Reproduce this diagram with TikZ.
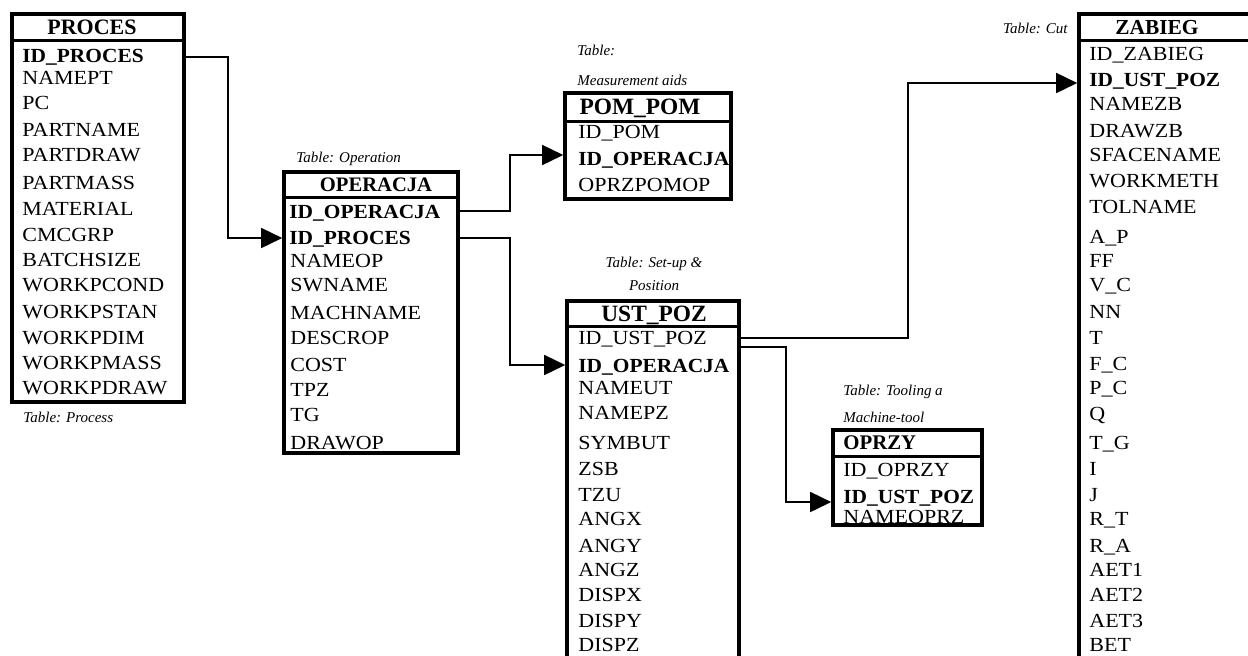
\documentclass[tikz,border=0pt]{standalone}
\usepackage{fontspec}
\setmainfont{Liberation Serif}[FakeStretch=1.1]
\newfontfamily\lblfont{Liberation Serif}
\newfontfamily\bfam{Liberation Serif}[FakeStretch=1.07]
\usetikzlibrary{arrows.meta,fit}
\begin{document}
\begin{tikzpicture}[x=0.5pt,y=-0.5pt,
  frame/.style={draw, line width=1.8pt, inner sep=0pt},
  divider/.style={line width=1.5pt},
  row/.style={anchor=west, inner sep=0pt, text height=6.6pt, text depth=0pt, font=\fontsize{10}{12}\selectfont},
  brow/.style={row, font=\bfam\fontsize{10}{12}\selectfont\bfseries},
  hdr/.style={inner sep=0pt, text height=6.6pt, text depth=0pt, font=\lblfont\fontsize{10}{12}\selectfont\bfseries},
  lbl/.style={inner sep=0pt, text height=5pt, text depth=0pt, font=\lblfont\itshape\fontsize{7.5}{9}\selectfont},
  conn/.style={line width=0.8pt, -{Triangle[length=10.5pt,width=10pt]}}]
\clip (0,0) rectangle (1248,655);
\fill[white] (0,0) rectangle (1248,655);

% ---------- PROCES ----------
\node[frame, fit={(12,14) (184,402)}] (procbox) {};
\draw[divider] (procbox.west |- 0,40) -- (procbox.east |- 0,40);
\node[hdr, font=\lblfont\fontsize{11}{13}\selectfont\bfseries, text height=7.3pt] (prochdr) at (92,27) {PROCES};
\node[brow] (pidp) at (22,56) {ID\_PROCES};
\foreach \t/\yy [count=\i] in {NAMEPT/78, PC/103, PARTNAME/130, PARTDRAW/155, PARTMASS/183, MATERIAL/209, CMCGRP/235, BATCHSIZE/260, WORKPCOND/285, WORKPSTAN/312, WORKPDIM/338, WORKPMASS/363, WORKPDRAW/388}
  \node[row] (p\i) at (22,\yy) {\t};
\node[lbl, anchor=west] (proclbl) at (23,417) {Table: Process};

% ---------- OPERACJA ----------
\node[frame, fit={(284,172) (458,453)}] (opbox) {};
\draw[divider] (opbox.west |- 0,197) -- (opbox.east |- 0,197);
\node[hdr, font=\lblfont\fontsize{10.3}{12}\selectfont\bfseries] (ophdr) at (376,185) {OPERACJA};
\node[brow] (oido) at (289,212) {ID\_OPERACJA};
\node[brow] (oidp) at (289,238) {ID\_PROCES};
\foreach \t/\yy [count=\i] in {NAMEOP/261, SWNAME/285, MACHNAME/313, DESCROP/338, COST/365, TPZ/390, TG/415, DRAWOP/443}
  \node[row] (o\i) at (290,\yy) {\t};
\node[lbl, anchor=west] (oplbl) at (296,157) {Table: Operation};

% ---------- POM_POM ----------
\node[frame, fit={(565,93) (731,199)}] (pmbox) {};
\draw[divider] (pmbox.west |- 0,121) -- (pmbox.east |- 0,121);
\node[hdr, font=\lblfont\fontsize{11.7}{14}\selectfont\bfseries, text height=7.7pt] (pmhdr) at (640,107) {POM\_POM};
\node[row] (pmidpom) at (578,132) {ID\_POM};
\node[brow] (pmido) at (578,159) {ID\_OPERACJA};
\node[row] (pmopr) at (578,185) {OPRZPOMOP};
\node[lbl, anchor=west] (pmlbla) at (577,50) {Table:};
\node[lbl, anchor=west] (pmlblb) at (577,80) {Measurement aids};

% ---------- UST_POZ ----------
\node[frame, fit={(567,301) (739,700)}] (ubox) {};
\draw[divider] (ubox.west |- 0,326) -- (ubox.east |- 0,326);
\node[hdr, font=\lblfont\fontsize{11.7}{14}\selectfont\bfseries, text height=7.7pt] (uhdr) at (654,314) {UST\_POZ};
\node[row] (uidu) at (578,338) {ID\_UST\_POZ};
\node[brow] (uido) at (578,366) {ID\_OPERACJA};
\foreach \t/\yy [count=\i] in {NAMEUT/388, NAMEPZ/413, SYMBUT/443, ZSB/469, TZU/495, ANGX/519, ANGY/546, ANGZ/570, DISPX/595, DISPY/621, DISPZ/645}
  \node[row] (u\i) at (578,\yy) {\t};
\node[lbl] (ulbla) at (654,262) {Table: Set-up \&};
\node[lbl] (ulblb) at (654,285) {Position};

% ---------- OPRZY ----------
\node[frame, fit={(833,430) (982,525)}] (obox) {};
\draw[divider] (obox.west |- 0,456) -- (obox.east |- 0,456);
\node[hdr, anchor=west, font=\lblfont\fontsize{10.4}{12}\selectfont\bfseries] (ohdr) at (843,443) {OPRZY};
\node[row] (oidopr) at (843,470) {ID\_OPRZY};
\node[brow] (oidu) at (843,497) {ID\_UST\_POZ};
\node[row] (onam) at (843,517) {NAMEOPRZ};
\node[lbl, anchor=west] (olbla) at (843,390) {Table: Tooling a};
\node[lbl, anchor=west] (olblb) at (843,417) {Machine-tool};

% ---------- ZABIEG ----------
\node[frame, fit={(1079,14) (1252,700)}] (zbox) {};
\draw[divider] (zbox.west |- 0,40) -- (zbox.east |- 0,40);
\node[hdr, font=\lblfont\fontsize{10.7}{13}\selectfont\bfseries, text height=7.1pt] (zhdr) at (1157,27) {ZABIEG};
\node[row] (zidz) at (1089,54) {ID\_ZABIEG};
\node[brow] (zidu) at (1089,80) {ID\_UST\_POZ};
\foreach \t/\yy [count=\i] in {NAMEZB/104, DRAWZB/131, SFACENAME/155, WORKMETH/181, TOLNAME/207, A\_P/237, FF/261, V\_C/285, NN/312, T/338, F\_C/364, P\_C/388, Q/414, T\_G/443, I/469, J/495, R\_T/519, R\_A/546, AET1/570, AET2/595, AET3/621, BET/645}
  \node[row] (z\i) at (1089,\yy) {\t};
\node[lbl, anchor=east] (zlbl) at (1068,28) {Table: Cut};

% ---------- connectors ----------
\coordinate (k1) at (228,0);
\coordinate (k2) at (510,0);
\coordinate (k3) at (908,0);
\coordinate (k4) at (786,0);
\draw[conn] (procbox.east |- 0,57) -| (k1 |- oidp) -- (opbox.west |- oidp);
\draw[conn] (opbox.east |- 0,211) -| (k2 |- 0,155) -- (pmbox.west |- 0,155);
\draw[conn] (opbox.east |- 0,238) -| (k2 |- 0,365) -- (ubox.west |- 0,365);
\draw[conn] (ubox.east |- 0,338) -| (k3 |- 0,83) -- (zbox.west |- 0,83);
\draw[conn] (ubox.east |- 0,347) -| (k4 |- 0,502) -- (obox.west |- 0,502);
\end{tikzpicture}
\end{document}
